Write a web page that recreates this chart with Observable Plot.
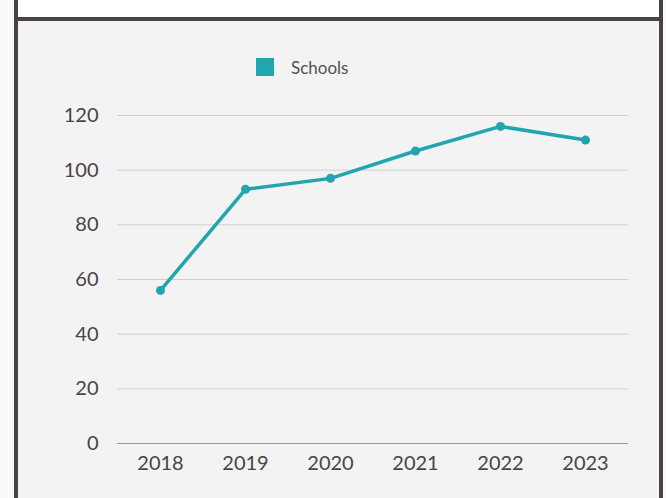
<!DOCTYPE html>
<html>
<head>
<meta charset="utf-8">
<script src="https://cdn.jsdelivr.net/npm/d3@7"></script>
<script src="https://cdn.jsdelivr.net/npm/@observablehq/plot@0.6"></script>
<style>
  html, body { margin: 0; padding: 0; background: #fafafa; width: 666px; height: 498px; overflow: hidden; font-family: Lato, "Noto Sans", sans-serif; }
  #frame { position: absolute; left: 14px; top: -60px; width: 641px; height: 600px; border-left: 4px solid #4b4343; border-right: 4px solid #4b4343; background: #f3f3f3; }
  #header { position: absolute; left: 0; top: 0; width: 641px; height: 77px; background: #ffffff; border-bottom: 4px solid #4b4343; overflow: hidden; }
  #title { position: absolute; left: 60px; width: 641px; bottom: 17px; text-align: center; font-size: 24px; line-height: 29px; color: #4a4444; white-space: nowrap; }
  #legend { position: absolute; left: 238px; top: 118px; height: 18px; display: flex; align-items: center; font-size: 17px; color: #555050; }
  #legend .sw { width: 18px; height: 18px; background: #20a6ae; margin-right: 17px; }
  #chart { position: absolute; left: 0; top: 81px; }
</style>
</head>
<body>
<div id="frame">
  <div id="header"><div id="title">Schools Engaged by Year</div></div>
  <div id="legend"><div class="sw"></div><span>Schools</span></div>
  <div id="chart"></div>
</div>
<script>
const years = ["2018", "2019", "2020", "2021", "2022", "2023"];
const schools = [56, 93, 97, 107, 116, 111];
const yTicks = [0, 20, 40, 60, 80, 100, 120];
const seriesName = "Schools";
const lineColor = "#20a6ae";

const data = years.map((y, i) => ({year: y, value: schools[i], series: seriesName}));

const chart = Plot.plot({
  width: 641,
  height: 477,
  marginLeft: 99,
  marginRight: 31,
  marginTop: 94,
  marginBottom: 55,
  style: {background: "transparent", fontFamily: "Lato, 'Noto Sans', sans-serif", fontSize: "20px", color: "#4a4444"},
  x: {type: "point", domain: years, padding: 0.5, label: null},
  y: {domain: [0, 120], ticks: yTicks, label: null},
  marks: [
    Plot.gridY(yTicks.filter(d => d !== 0), {stroke: "#cfcfcf", strokeOpacity: 1, strokeWidth: 1}),
    Plot.ruleY([0], {stroke: "#9a9a9a", strokeWidth: 1}),
    Plot.axisX({tickSize: 0, tickPadding: 12, fontSize: 20, label: null}),
    Plot.axisY(yTicks, {tickSize: 0, tickPadding: 19, fontSize: 20, label: null}),
    Plot.line(data, {x: "year", y: "value", stroke: lineColor, strokeWidth: 3.5}),
    Plot.dot(data, {x: "year", y: "value", fill: lineColor, r: 4.5})
  ]
});
document.getElementById("chart").appendChild(chart);
</script>
</body>
</html>
